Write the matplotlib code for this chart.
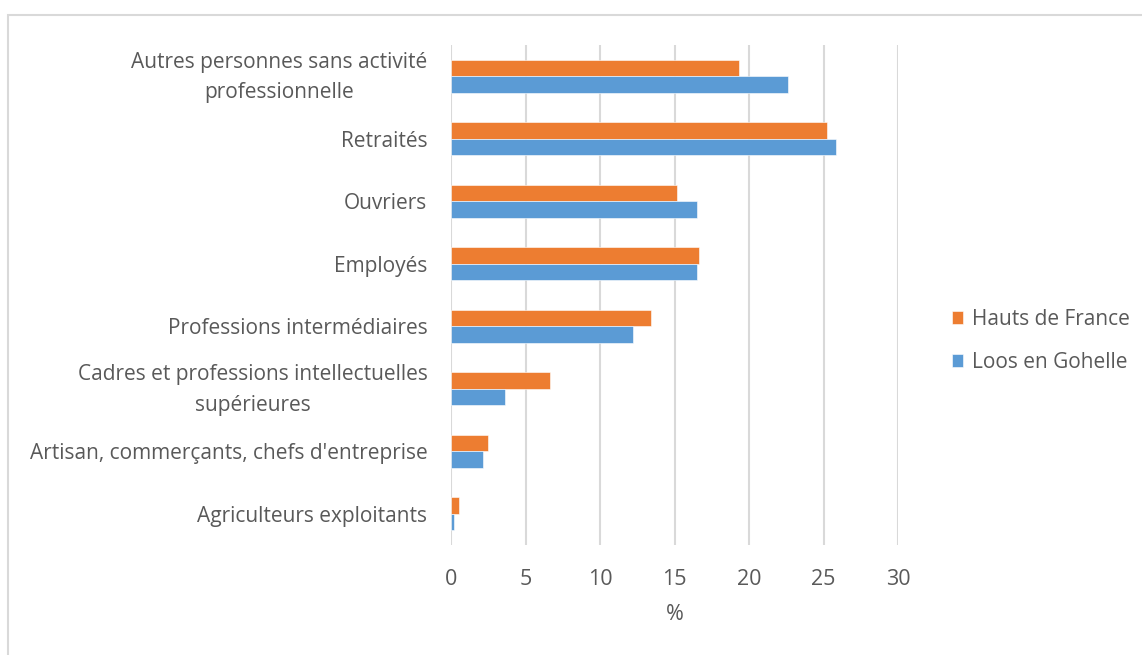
import matplotlib.pyplot as plt
import matplotlib.transforms as mtrans
import numpy as np
from matplotlib.patches import Rectangle

plt.rcParams['font.family'] = ['Open Sans', 'DejaVu Sans']

# categories, top to bottom
categories = [
    "Autres personnes sans activité\nprofessionnelle",
    "Retraités",
    "Ouvriers",
    "Employés",
    "Professions intermédiaires",
    "Cadres et professions intellectuelles\nsupérieures",
    "Artisan, commerçants, chefs d'entreprise",
    "Agriculteurs exploitants",
]
hauts_de_france = [19.3, 25.25, 15.2, 16.65, 13.45, 6.65, 2.5, 0.55]
loos_en_gohelle = [22.6, 25.85, 16.5, 16.5, 12.2, 3.65, 2.15, 0.2]
xticks = [0, 5, 10, 15, 20, 25, 30]

orange = '#ED7D31'
blue = '#5B9BD5'
txt = '#595959'

fig = plt.figure(figsize=(11.42, 6.55), dpi=100)
ax = fig.add_axes([451/1142, 1 - 545/655, 447/1142, 500/655])

# border of the chart area
fig.patches.append(Rectangle((8/1142, -0.1), 1.2, 1 - 15/655 + 0.1,
                             transform=fig.transFigure, fill=False,
                             edgecolor='#D9D9D9', linewidth=1.5))

y = np.arange(len(categories))
h = 0.265
ax.barh(y - h/2, hauts_de_france, height=h, color=orange, edgecolor='white',
        linewidth=0.4, label='Hauts de France', zorder=3)
ax.barh(y + h/2, loos_en_gohelle, height=h, color=blue, edgecolor='white',
        linewidth=0.4, label='Loos en Gohelle', zorder=3)

ax.set_ylim(len(categories) - 0.5, -0.5)
ax.set_xlim(0, 30)
ax.set_xticks(xticks)
ax.set_xticklabels([str(t) for t in xticks], fontsize=15.5, color=txt)
ax.set_yticks(y)
ax.set_yticklabels(categories, fontsize=15, color=txt, multialignment='center',
                   linespacing=1.6)
ax.tick_params(length=0)
ax.tick_params(axis='x', pad=17)
ax.tick_params(axis='y', pad=17)
for s in ax.spines.values():
    s.set_visible(False)
ax.grid(axis='x', color='#D9D9D9', linewidth=1.5, zorder=0)
ax.set_xlabel('%', fontsize=15.5, color=txt, labelpad=10)

# two-line labels sit a bit low, nudge them up
for lab in ax.get_yticklabels():
    if '\n' in lab.get_text():
        lab.set_transform(lab.get_transform() +
                          mtrans.ScaledTranslation(0, 6/100, fig.dpi_scale_trans))

leg = ax.legend(loc='center left', bbox_to_anchor=(1.078, 0.408), frameon=False,
                fontsize=15, labelcolor=txt, handlelength=0.55, handleheight=0.55,
                handletextpad=0.45, labelspacing=1.05)

fig.savefig('out.png', dpi=100)
